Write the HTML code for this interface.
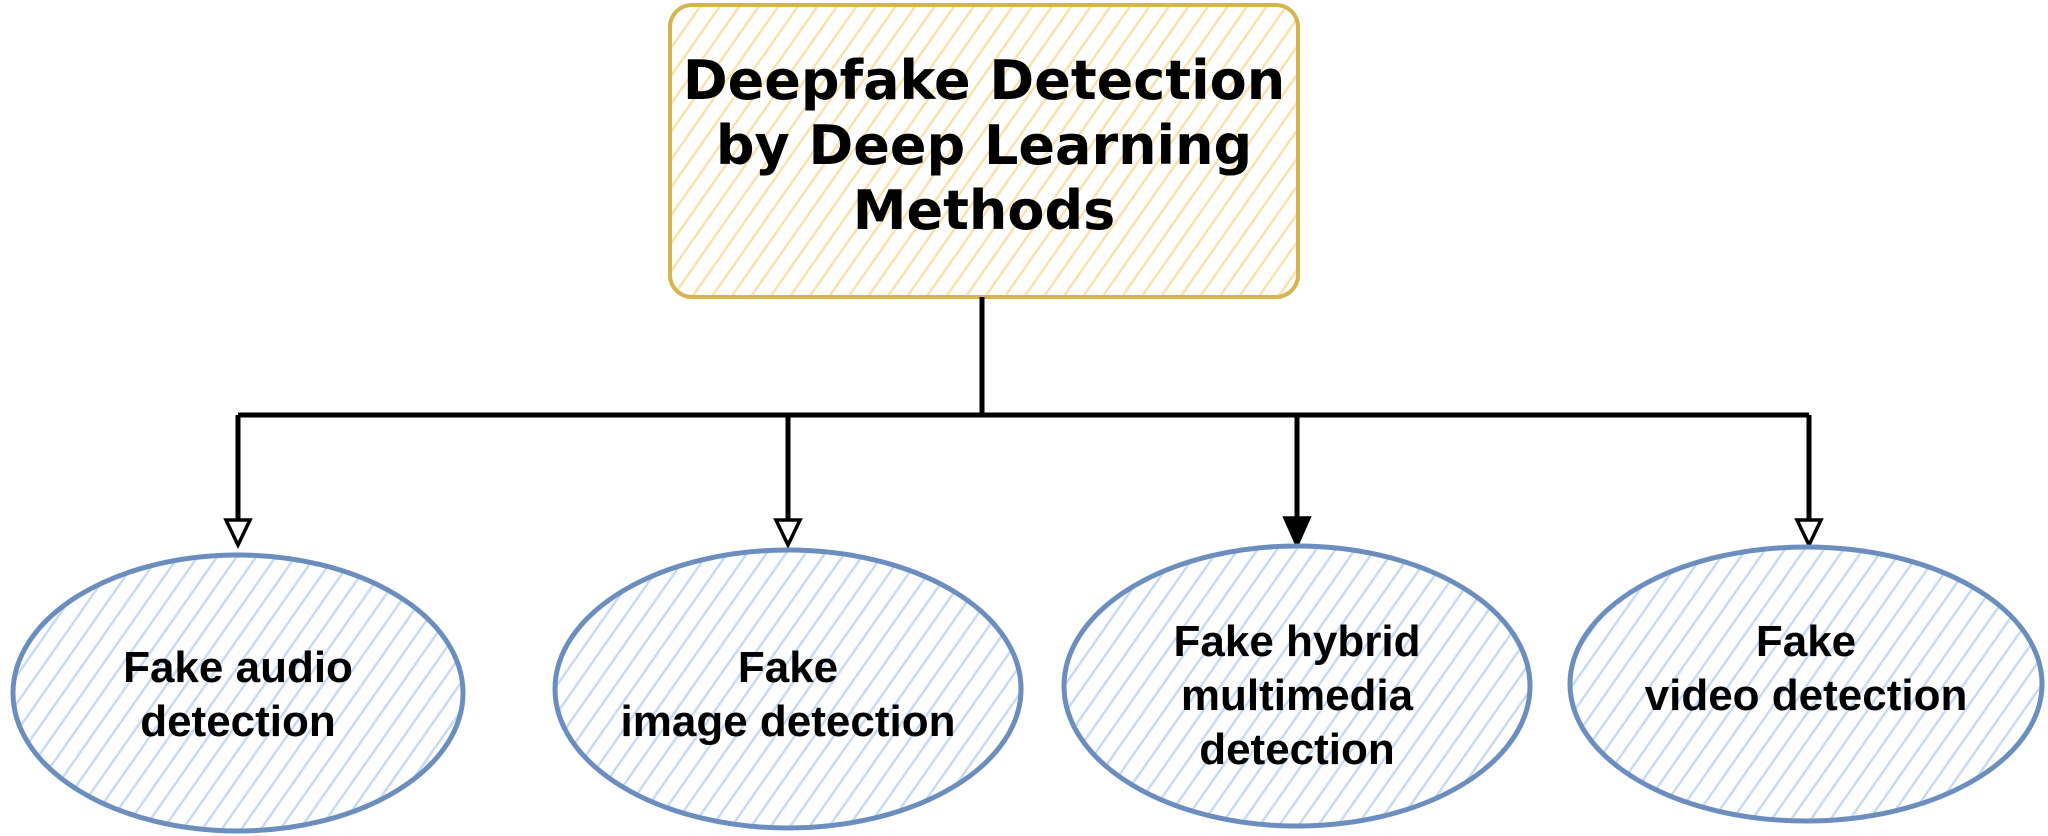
<!DOCTYPE html>
<html><head><meta charset="utf-8"><style>
html,body{margin:0;padding:0;background:#fff;}
svg{display:block;}
</style></head><body>
<svg width="2048" height="836" viewBox="0 0 2048 836" xmlns="http://www.w3.org/2000/svg">
<defs>
<pattern id="hy" patternUnits="userSpaceOnUse" width="16" height="16" patternTransform="rotate(35)">
<rect width="16" height="16" fill="#fff"/>
<line x1="0" y1="0" x2="0" y2="16" stroke="#f6e3ad" stroke-width="5"/>
</pattern>
<pattern id="hb" patternUnits="userSpaceOnUse" width="16" height="16" patternTransform="rotate(35)">
<rect width="16" height="16" fill="#fff"/>
<line x1="0" y1="0" x2="0" y2="16" stroke="#c9dbf1" stroke-width="5"/>
</pattern>
</defs>
<rect x="670" y="5" width="628" height="292" rx="22" fill="url(#hy)" stroke="#d6b450" stroke-width="4"/>
<g font-family="'DejaVu Sans',Verdana,sans-serif" font-weight="bold" font-size="54" fill="#000" text-anchor="middle">
<text x="984" y="99">Deepfake Detection</text>
<text x="984" y="164">by Deep Learning</text>
<text x="984" y="229">Methods</text>
</g>
<g stroke="#000" stroke-width="5" fill="none">
<line x1="982" y1="297" x2="982" y2="415"/>
<line x1="238" y1="415" x2="1809" y2="415"/>
<line x1="238" y1="415" x2="238" y2="525"/>
<line x1="788" y1="415" x2="788" y2="525"/>
<line x1="1297" y1="415" x2="1297" y2="525"/>
<line x1="1809" y1="415" x2="1809" y2="525"/>
</g>
<g stroke="#000" stroke-width="3.5" fill="#fff">
<polygon points="226,520 250,520 238,545"/>
<polygon points="776,520 800,520 788,545"/>
<polygon points="1285,518 1309,518 1297,545" fill="#000"/>
<polygon points="1797,520 1821,520 1809,545"/>
</g>
<g stroke="#6c8ebf" stroke-width="5" fill="url(#hb)">
<ellipse cx="238" cy="693" rx="225" ry="138"/>
<ellipse cx="788" cy="689" rx="233" ry="139"/>
<ellipse cx="1297" cy="686" rx="233" ry="140"/>
<ellipse cx="1806" cy="684" rx="236" ry="137"/>
</g>
<g font-family="'Liberation Sans',Arial,sans-serif" font-weight="bold" font-size="44" fill="#000" text-anchor="middle">
<text x="238" y="682">Fake audio</text>
<text x="238" y="736">detection</text>
<text x="788" y="682">Fake</text>
<text x="788" y="736">image detection</text>
<text x="1297" y="656">Fake hybrid</text>
<text x="1297" y="710">multimedia</text>
<text x="1297" y="764">detection</text>
<text x="1806" y="656">Fake</text>
<text x="1806" y="710">video detection</text>
</g>
</svg>
</body></html>
